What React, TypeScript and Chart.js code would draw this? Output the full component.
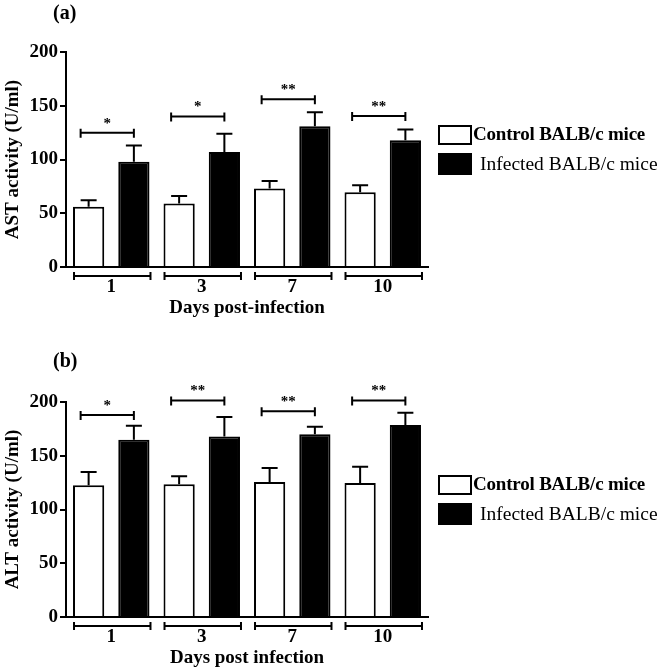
import React, { useEffect, useRef } from 'react';
import { Chart, registerables } from 'chart.js';
Chart.register(...registerables);

const days = ['1', '3', '7', '10'];
const yTicks = [0, 50, 100, 150, 200];

const astControl = [56, 59, 73, 69.5];
const astControlErr = [6, 7, 7, 6.5];
const astInfected = [98, 107, 131, 118];
const astInfectedErr = [15, 17, 13, 10];
const astSigLevel = [125, 140, 156, 140.5];
const astSigLabel = ['*', '*', '**', '**'];

const altControl = [122.5, 123.5, 125.6, 124.7];
const altControlErr = [12.5, 7.5, 13, 15];
const altInfected = [165, 168, 170, 178.6];
const altInfectedErr = [13, 18, 7, 11.4];
const altSigLevel = [188, 201.5, 191.4, 201.5];
const altSigLabel = ['*', '**', '**', '**'];

const FONT = '"Liberation Serif", "Times New Roman", serif';

const annotPlugin = {
  id: 'annot',
  afterDatasetsDraw(chart: any, _args: any, opts: any) {
    const ctx = chart.ctx;
    const y = chart.scales.y;
    const x = chart.scales.x;
    const m0 = chart.getDatasetMeta(0);
    const m1 = chart.getDatasetMeta(1);
    ctx.save();
    ctx.strokeStyle = '#000';
    ctx.fillStyle = '#000';
    ctx.lineWidth = 2;
    // error bars (upper only)
    [m0, m1].forEach((meta: any, di: number) => {
      const vals = chart.data.datasets[di].data;
      const errs = opts.errors[di];
      meta.data.forEach((el: any, j: number) => {
        const yt = y.getPixelForValue(vals[j] + errs[j]);
        ctx.beginPath();
        ctx.moveTo(el.x, el.y);
        ctx.lineTo(el.x, yt);
        ctx.moveTo(el.x - 8, yt);
        ctx.lineTo(el.x + 8, yt);
        ctx.stroke();
      });
    });
    // significance brackets
    m0.data.forEach((el0: any, j: number) => {
      const el1 = m1.data[j];
      const x1 = el0.x - 8;
      const x2 = el1.x;
      const yy = y.getPixelForValue(opts.sigLevel[j]);
      ctx.beginPath();
      ctx.moveTo(x1, yy);
      ctx.lineTo(x2, yy);
      ctx.moveTo(x1, yy - 4);
      ctx.lineTo(x1, yy + 5);
      ctx.moveTo(x2, yy - 4);
      ctx.lineTo(x2, yy + 5);
      ctx.stroke();
      ctx.font = 'bold 15px ' + FONT;
      ctx.textAlign = 'center';
      ctx.textBaseline = 'middle';
      ctx.fillText(opts.sigLabel[j], (x1 + x2) / 2, yy - 9);
    });
    // group brackets under x axis
    m0.data.forEach((el0: any, j: number) => {
      const el1 = m1.data[j];
      const x1 = el0.x - el0.width / 2 + 1;
      const x2 = el1.x + el1.width / 2 + 1;
      const yy = x.top + 9;
      ctx.beginPath();
      ctx.moveTo(x1, yy);
      ctx.lineTo(x2, yy);
      ctx.moveTo(x1, yy - 4);
      ctx.lineTo(x1, yy + 4);
      ctx.moveTo(x2, yy - 4);
      ctx.lineTo(x2, yy + 4);
      ctx.stroke();
    });
    ctx.restore();
  },
};

type PanelProps = {
  height: number;
  top: number;
  padTop: number;
  control: number[];
  controlErr: number[];
  infected: number[];
  infectedErr: number[];
  sigLevel: number[];
  sigLabel: string[];
  yTitle: string;
  xTitle: string;
};

function Panel(p: PanelProps) {
  const ref = useRef<HTMLCanvasElement>(null);
  useEffect(() => {
    if (!ref.current) return;
    const chart = new Chart(ref.current, {
      type: 'bar',
      data: {
        labels: days,
        datasets: [
          {
            label: 'Control BALB/c mice',
            data: p.control,
            backgroundColor: '#fff',
            borderColor: '#000',
            borderWidth: 2,
            categoryPercentage: 1,
            barPercentage: 0.69,
          },
          {
            label: 'Infected BALB/c mice',
            data: p.infected,
            backgroundColor: '#000',
            borderColor: '#000',
            borderWidth: 2,
            categoryPercentage: 1,
            barPercentage: 0.69,
          },
        ],
      },
      plugins: [annotPlugin],
      options: {
        animation: false,
        responsive: false,
        maintainAspectRatio: false,
        layout: { padding: { top: p.padTop, right: 235, left: 0, bottom: 0 } },
        plugins: {
          legend: { display: false },
          tooltip: { enabled: false },
          annot: {
            errors: [p.controlErr, p.infectedErr],
            sigLevel: p.sigLevel,
            sigLabel: p.sigLabel,
          },
        } as any,
        scales: {
          x: {
            grid: { display: false, drawTicks: false },
            border: { display: true, color: '#000', width: 2 },
            ticks: { color: '#000', padding: 9, font: { family: FONT, size: 19, weight: 'bold' } },
            title: {
              display: true,
              text: p.xTitle,
              color: '#000',
              padding: { top: 0, bottom: 1 },
              font: { family: FONT, size: 19, weight: 'bold' },
            },
            afterFit: (s: any) => {
              s.height = 53;
            },
          },
          y: {
            min: 0,
            max: 200,
            afterBuildTicks: (s: any) => {
              s.ticks = yTicks.map((v) => ({ value: v }));
            },
            grid: {
              display: true,
              drawOnChartArea: false,
              drawTicks: true,
              tickLength: 6,
              color: '#000',
              lineWidth: 2,
            },
            border: { display: true, color: '#000', width: 2 },
            ticks: { color: '#000', padding: 2, font: { family: FONT, size: 19, weight: 'bold' } },
            title: {
              display: true,
              text: p.yTitle,
              color: '#000',
              padding: { top: 2, bottom: 0 },
              font: { family: FONT, size: 19, weight: 'bold' },
            },
            afterFit: (s: any) => {
              s.width = 66;
            },
          },
        },
      },
    });
    return () => chart.destroy();
  }, []);
  return (
    <canvas
      ref={ref}
      width={663}
      height={p.height}
      style={{ position: 'absolute', left: 0, top: p.top, width: 663, height: p.height }}
    />
  );
}

const txt = (extra: React.CSSProperties): React.CSSProperties => ({
  position: 'absolute',
  fontFamily: FONT,
  color: '#000',
  whiteSpace: 'nowrap',
  ...extra,
});

function Legend({ top }: { top: number }) {
  return (
    <>
      <div style={{ position: 'absolute', left: 438, top, width: 30, height: 16, border: '2px solid #000', background: '#fff' }} />
      <div style={{ position: 'absolute', left: 438, top: top + 28, width: 34, height: 22, background: '#000' }} />
      <div style={txt({ left: 473, top: top - 2, fontSize: 19, lineHeight: '22px', fontWeight: 'bold', letterSpacing: '-0.2px' })}>
        Control BALB/c mice
      </div>
      <div style={txt({ left: 480, top: top + 28, fontSize: 19.5, lineHeight: '22px' })}>Infected BALB/c mice</div>
    </>
  );
}

export default function App() {
  return (
    <div style={{ position: 'absolute', left: 0, top: 0, width: 663, height: 670, background: '#fff' }}>
      <Panel
        height={320}
        top={0}
        padTop={52}
        control={astControl}
        controlErr={astControlErr}
        infected={astInfected}
        infectedErr={astInfectedErr}
        sigLevel={astSigLevel}
        sigLabel={astSigLabel}
        yTitle="AST activity (U/ml)"
        xTitle="Days post-infection"
      />
      <Panel
        height={350}
        top={320}
        padTop={82}
        control={altControl}
        controlErr={altControlErr}
        infected={altInfected}
        infectedErr={altInfectedErr}
        sigLevel={altSigLevel}
        sigLabel={altSigLabel}
        yTitle="ALT activity (U/ml)"
        xTitle="Days post infection"
      />
      <div style={txt({ left: 53, top: 1, fontSize: 20, lineHeight: '22px', fontWeight: 'bold' })}>(a)</div>
      <div style={txt({ left: 53, top: 349, fontSize: 20, lineHeight: '22px', fontWeight: 'bold' })}>(b)</div>
      <Legend top={125} />
      <Legend top={475} />
    </div>
  );
}
